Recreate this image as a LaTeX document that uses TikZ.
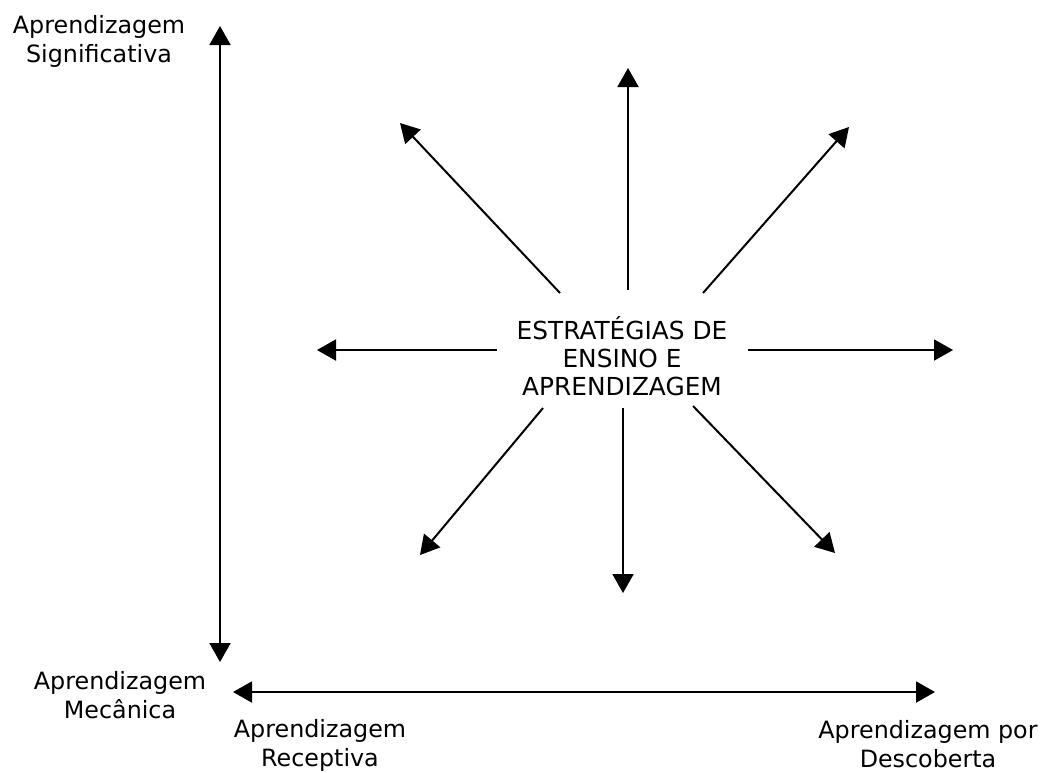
\documentclass[tikz,border=0pt]{standalone}
\usepackage{fontspec}
\setmainfont{DejaVu Sans}
\usetikzlibrary{arrows.meta}
\tikzset{
    axis/.style={line width=1pt, {Triangle[length=9.5pt,width=10.5pt]}-{Triangle[length=9.5pt,width=10.5pt]}},
    ray/.style={line width=1pt, -{Triangle[length=9.5pt,width=10.5pt]}},
    lbl/.style={align=center, inner sep=0pt, font=\fontsize{11.9}{14.5}\selectfont}
}

\begin{document}
\begin{tikzpicture}[x=0.5pt, y=-0.5pt]
    \useasboundingbox (0,0) rectangle (1047,772);

    % axes
    \node (0) at (220, 26) {};
	\node (1) at (220, 662) {};
	\node (2) at (233, 692) {};
	\node (3) at (935, 692) {};
	\node [lbl] (4) at (99, 41) {Aprendizagem\\Significativa};
	\node [lbl] (5) at (120, 695) {Aprendizagem\\Mecânica};
	\node [lbl] (6) at (320, 745) {Aprendizagem\\Receptiva};
	\node [lbl] (7) at (928, 744) {Aprendizagem por\\Descoberta};
	% centre
	\node [lbl, font=\fontsize{12.4}{14}\selectfont] (8) at (622, 356) {ESTRATÉGIAS DE\\ENSINO E\\APRENDIZAGEM};
	\node (9) at (628, 290) {};
	\node (10) at (628, 68) {};
	\node (11) at (703, 293) {};
	\node (12) at (849, 127) {};
	\node (13) at (748, 350) {};
	\node (14) at (953, 350) {};
	\node (15) at (693, 406) {};
	\node (16) at (835, 553) {};
	\node (17) at (623, 408) {};
	\node (18) at (623, 593) {};
	\node (19) at (543, 408) {};
	\node (20) at (420, 555) {};
	\node (21) at (497, 350) {};
	\node (22) at (317, 350) {};
	\node (23) at (560, 293) {};
	\node (24) at (400, 123) {};
	% edges
	\draw [axis] (0.center) to (1.center);
	\draw [axis] (2.center) to (3.center);
	\draw [ray] (9.center) to (10.center);
	\draw [ray] (11.center) to (12.center);
	\draw [ray] (13.center) to (14.center);
	\draw [ray] (15.center) to (16.center);
	\draw [ray] (17.center) to (18.center);
	\draw [ray] (19.center) to (20.center);
	\draw [ray] (21.center) to (22.center);
	\draw [ray] (23.center) to (24.center);
\end{tikzpicture}
\end{document}
